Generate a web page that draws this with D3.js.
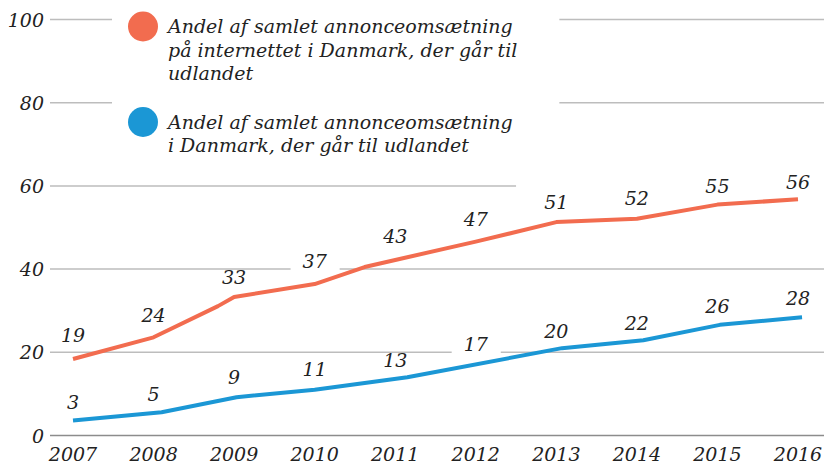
<!DOCTYPE html>
<html>
<head>
<meta charset="utf-8">
<script src="https://cdn.jsdelivr.net/npm/d3@7"></script>
<style>
  body { margin: 0; background: #fff; }
  svg text { font-family: "DejaVu Serif", serif; font-style: italic; fill: #222; }
</style>
</head>
<body>
<svg id="chart" width="824" height="466"></svg>
<script>
// x-axis years and the printed value labels
var years = [2007, 2008, 2009, 2010, 2011, 2012, 2013, 2014, 2015, 2016];
var internetLabels = [19, 24, 33, 37, 43, 47, 51, 52, 55, 56];
var totalLabels = [3, 5, 9, 11, 13, 17, 20, 22, 26, 28];

// line vertices
var internetLineYears = [2007, 2008, 2008.8, 2009, 2010, 2010.62, 2011, 2012, 2013, 2014, 2015, 2016];
var internetLineValues = [18.4, 23.6, 31.1, 33.3, 36.4, 40.5, 42.2, 46.6, 51.3, 52.1, 55.5, 56.8];
var totalLineYears = [2007, 2008.1, 2009.03, 2010, 2011.15, 2013.07, 2014.08, 2015.03, 2016.05];
var totalLineValues = [3.6, 5.6, 9.2, 11.0, 14.0, 21.0, 22.9, 26.6, 28.4];

var yTicks = [0, 20, 40, 60, 80, 100];

var legendLines = [
    ["Andel af samlet annonceomsætning", "på internettet i Danmark, der går til", "udlandet"],
    ["Andel af samlet annonceomsætning", "i Danmark, der går til udlandet"]
];

var colors = ["#f26c4f", "#1b97d5"];

var svg = d3.select("#chart");

var xScale = d3.scaleLinear()
    .domain([2007, 2016])
    .range([73, 798]);

var yScale = d3.scaleLinear()
    .domain([0, 100])
    .range([435.5, 19.5]);

// gridlines
var grid = svg.append("g");
grid.selectAll("line")
    .data(yTicks)
    .enter()
    .append("line")
    .attr("x1", 50)
    .attr("x2", 824)
    .attr("y1", d => yScale(d))
    .attr("y2", d => yScale(d))
    .attr("stroke", d => d === 0 ? "#8c8c8c" : "#bdbdbd")
    .attr("stroke-width", 1.5);

// y tick labels
svg.append("g")
    .selectAll("text")
    .data(yTicks)
    .enter()
    .append("text")
    .attr("x", 44)
    .attr("y", d => yScale(d) + 7)
    .attr("text-anchor", "end")
    .style("font-size", "19px")
    .text(d => d);

// x tick labels
svg.append("g")
    .selectAll("text")
    .data(years)
    .enter()
    .append("text")
    .attr("x", d => xScale(d))
    .attr("y", 461)
    .attr("text-anchor", "middle")
    .style("font-size", "19px")
    .text(d => d);

// knockouts layer (white boxes that hide the gridlines)
var knock = svg.append("g");

// the 60 line stops after 2012
knock.append("rect")
    .attr("x", xScale(2012.5))
    .attr("y", yScale(60) - 3)
    .attr("width", 824 - xScale(2012.5))
    .attr("height", 6)
    .attr("fill", "#fff");

// legend
var legend = svg.append("g");
var legendTop = [26.5, 122];
legendLines.forEach(function (lines, i) {
    legend.append("circle")
        .attr("cx", 143)
        .attr("cy", legendTop[i])
        .attr("r", 15)
        .attr("fill", colors[i]);
    legend.selectAll(null)
        .data(lines)
        .enter()
        .append("text")
        .attr("x", 168)
        .attr("y", (d, j) => legendTop[i] + 6.5 + j * 23.7)
        .style("font-size", "19px")
        .text(d => d);
});
var lb = legend.node().getBBox();
knock.append("rect")
    .attr("x", lb.x - 16)
    .attr("y", 0)
    .attr("width", lb.width + 16 + 42)
    .attr("height", lb.y + lb.height + 6)
    .attr("fill", "#fff");
legend.raise();

// lines
var line = d3.line()
    .x(d => xScale(d[0]))
    .y(d => yScale(d[1]));

var series = [
    d3.zip(internetLineYears, internetLineValues),
    d3.zip(totalLineYears, totalLineValues)
];

series.forEach(function (pts, i) {
    svg.append("path")
        .datum(pts)
        .attr("fill", "none")
        .attr("stroke", colors[i])
        .attr("stroke-width", 4)
        .attr("stroke-linejoin", "round")
        .attr("d", line);
});

// value labels
[internetLabels, totalLabels].forEach(function (vals, i) {
    var g = svg.append("g");
    var labels = g.selectAll("text")
        .data(vals)
        .enter()
        .append("text")
        .attr("x", (d, j) => xScale(years[j]))
        .attr("y", d => yScale(d) - 21 + 7)
        .attr("text-anchor", "middle")
        .style("font-size", "19px")
        .text(d => d);
    labels.each(function (d) {
        var b = this.getBBox();
        var cy = yScale(d) - 21;
        knock.append("rect")
            .attr("x", b.x - 12)
            .attr("y", cy - 6)
            .attr("width", b.width + 24)
            .attr("height", 16)
            .attr("fill", "#fff");
    });
});
</script>
</body>
</html>
